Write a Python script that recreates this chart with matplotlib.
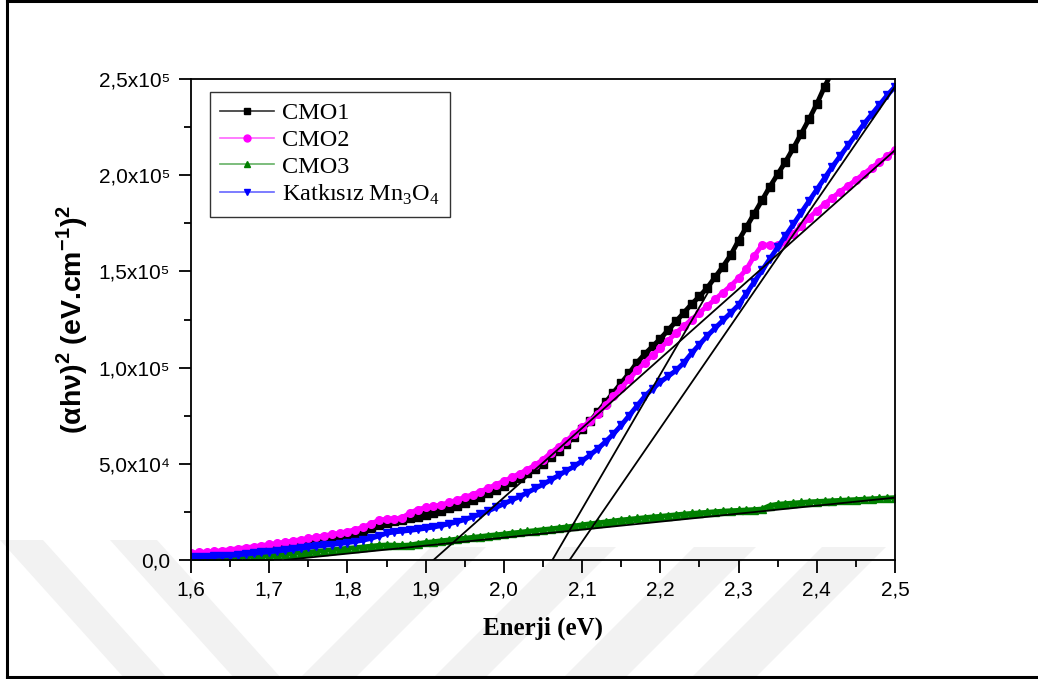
import numpy as np
import matplotlib
matplotlib.use("Agg")
import matplotlib.pyplot as plt
from matplotlib.lines import Line2D
from matplotlib.patches import Polygon
from matplotlib.ticker import FixedLocator

plt.rcParams['mathtext.fontset'] = 'custom'
plt.rcParams['mathtext.rm'] = 'Liberation Serif'
plt.rcParams['mathtext.bf'] = 'Liberation Sans:bold'

# photon energy grid (eV), 0.01 eV steps
energy = np.linspace(1.6, 2.5, 91)

# (alpha h nu)^2 values, in units of 1e3 (eV.cm^-1)^2
cmo1 = [1.5, 1.8, 2.1, 2.5, 2.9, 3.3, 3.8, 4.3, 4.9, 5.5,
        6.1, 6.6, 7.1, 7.6, 8.1, 8.6, 9.3, 10.0, 10.8, 11.7,
        12.6, 13.7, 15.0, 16.5, 18.0, 19.2, 20.2, 20.9, 21.6, 22.6,
        23.6, 24.5, 25.5, 26.8, 28.2, 29.7, 31.2, 32.8, 34.6, 36.6,
        38.6, 40.6, 42.7, 45.0, 47.4, 50.0, 53.3, 56.8, 60.4, 64.0,
        68.0, 72.0, 77.0, 82.0, 87.0, 92.0, 97.0, 102.5, 107.0, 111.0,
        115.0, 119.5, 124.0, 128.5, 133.0, 137.0, 141.5, 147.0, 152.5, 158.5,
        166.0, 173.0, 180.0, 187.0, 194.0, 200.5, 207.0, 214.0, 221.5, 229.0,
        237.0, 246.0, 254.0]
cmo2 = [3.6, 3.9, 4.2, 4.5, 4.9, 5.4, 5.9, 6.4, 6.9, 7.5,
        8.1, 8.7, 9.3, 9.9, 10.6, 11.2, 11.9, 12.6, 13.3, 14.0,
        14.8, 15.8, 17.0, 18.8, 20.6, 21.3, 21.2, 22.0, 24.5, 26.2,
        27.3, 27.9, 28.7, 29.9, 31.2, 32.6, 34.0, 35.6, 37.3, 39.2,
        41.0, 42.9, 44.9, 47.0, 49.4, 52.2, 55.6, 58.8, 62.0, 65.5,
        69.0, 72.0, 76.0, 80.5, 85.0, 89.5, 94.0, 98.5, 102.5, 106.5,
        110.0, 114.0, 118.0, 121.5, 125.0, 128.5, 132.0, 135.5, 139.0, 142.5,
        146.5, 151.0, 158.0, 163.7, 163.7, 163.7, 165.5, 169.5, 173.5, 177.8,
        181.5, 185.0, 188.3, 191.5, 194.5, 197.5, 200.7, 203.8, 206.8, 209.8,
        213.0]
cmo3 = [0.6, 0.8, 1.0, 1.2, 1.4, 1.6, 1.7, 1.8, 1.9, 2.0,
        2.1, 2.5, 2.9, 3.3, 3.7, 4.1, 4.5, 4.9, 5.3, 5.7,
        6.1, 6.4, 6.8, 7.2, 7.6, 7.8, 7.7, 7.6, 7.8, 8.5,
        9.1, 9.5, 10.0, 10.4, 10.9, 11.3, 11.8, 12.2, 12.7, 13.1,
        13.5, 14.0, 14.4, 14.9, 15.3, 15.8, 16.2, 16.7, 17.2, 17.7,
        18.3, 18.8, 19.3, 19.8, 20.3, 20.8, 21.2, 21.6, 22.0, 22.4,
        22.7, 23.1, 23.5, 23.9, 24.2, 24.5, 24.8, 25.1, 25.4, 25.6,
        25.8, 26.0, 26.2, 26.5, 28.3, 29.0, 29.3, 29.6, 29.9, 30.2,
        30.4, 30.6, 30.8, 31.0, 31.2, 31.4, 31.6, 31.8, 32.0, 32.2,
        32.4]
mn3o4 = [1.3, 1.5, 1.7, 1.9, 2.1, 2.3, 2.7, 3.1, 3.5, 3.9,
         4.3, 4.7, 5.1, 5.6, 6.1, 6.6, 7.1, 7.6, 8.0, 8.5,
         9.0, 9.6, 10.3, 11.2, 12.5, 13.9, 14.6, 15.0, 15.4, 15.9,
         16.5, 17.1, 17.9, 18.8, 19.8, 21.0, 22.4, 23.9, 25.5, 27.3,
         29.2, 31.1, 33.0, 35.0, 37.2, 39.3, 41.6, 44.0, 46.4, 48.7,
         51.5, 54.5, 57.8, 61.5, 65.5, 70.0, 75.0, 80.0, 85.0, 89.0,
         92.5, 95.5, 98.5, 102.5, 107.5, 112.0, 116.5, 120.5, 124.5, 128.5,
         132.5, 138.5, 144.5, 150.5, 156.5, 162.5, 168.5, 174.5, 180.5, 186.5,
         192.5, 198.5, 204.5, 210.0, 215.5, 221.0, 226.5, 231.5, 236.5, 241.5,
         246.0]

# linear fits used for the band gap (x intercept -> end point), 1e3 units
fit_x = [[1.91, 2.50], [2.062, 2.263], [2.084, 2.50], [1.72, 2.50]]
fit_y = [[0, 213.0], [0, 140.5], [0, 246.0], [0, 32.4]]

labels = ['CMO1', 'CMO2', 'CMO3', r'Katkısız Mn$_3$O$_4$']
series = [cmo1, cmo2, cmo3, mn3o4]
markers = ['s', 'o', '^', 'v']
mcolors = ['#000000', '#ff00ff', '#008000', '#0000ff']
lcolors = ['#333333', '#ff66ff', '#66b266', '#6666ff']

xticks = [1.6, 1.7, 1.8, 1.9, 2.0, 2.1, 2.2, 2.3, 2.4, 2.5]
xticklabels = ['1,6', '1,7', '1,8', '1,9', '2,0', '2,1', '2,2', '2,3', '2,4', '2,5']
yticks = [0, 5e4, 1e5, 1.5e5, 2e5, 2.5e5]
yticklabels = ['0,0', '5,0x10⁴', '1,0x10⁵', '1,5x10⁵', '2,0x10⁵', '2,5x10⁵']

W, H = 1038, 679
fig = plt.figure(figsize=(W / 100, H / 100), dpi=100)

# faint grey watermark stripes near the bottom of the page (pixel coords)
stripes_back = [(0, 43), (110, 157)]          # "\" stripes, top edge at y=540
stripes_fwd = [(431, 486), (564, 616), (694, 756), (822, 886)]  # "/" stripes, top at y=547
for x0, x1 in stripes_back:
    pts = [(x0, 540), (x1, 540), (x1 + 125, H), (x0 + 125, H)]
    fig.add_artist(Polygon([(px / W, 1 - py / H) for px, py in pts], closed=True,
                           facecolor='#f2f2f2', edgecolor='none', zorder=-1,
                           transform=fig.transFigure))
for x0, x1 in stripes_fwd:
    pts = [(x0, 547), (x1, 547), (x1 - 132, H), (x0 - 132, H)]
    fig.add_artist(Polygon([(px / W, 1 - py / H) for px, py in pts], closed=True,
                           facecolor='#f2f2f2', edgecolor='none', zorder=-1,
                           transform=fig.transFigure))

ax = fig.add_axes([191 / W, 1 - 560 / H, 704 / W, 481 / H])
ax.set_facecolor('none')

for vals, mk, mc in zip(series, markers, mcolors):
    x = energy[:len(vals)]
    y = np.array(vals) * 1e3
    ax.plot(x, y, color=mc, lw=3.5, solid_capstyle='butt')
    ax.plot(x, y, ls='none', marker=mk, ms=5.5, mfc=mc, mec=mc)

for fx, fy in zip(fit_x, fit_y):
    ax.plot(fx, np.array(fy) * 1e3, color='k', lw=1.3, zorder=5)

ax.set_xlim(1.6, 2.5)
ax.set_ylim(0, 2.5e5)
ax.set_xticks(xticks)
ax.set_xticklabels(xticklabels)
ax.set_yticks(yticks)
ax.set_yticklabels(yticklabels)
ax.xaxis.set_minor_locator(FixedLocator(np.array(xticks[:-1]) + 0.05))
ax.yaxis.set_minor_locator(FixedLocator(np.array(yticks[:-1]) + 2.5e4))

for lab in ax.get_xticklabels() + ax.get_yticklabels():
    lab.set_family(['Liberation Sans', 'DejaVu Sans'])
    lab.set_fontsize(15)
ax.tick_params(which='major', direction='out', length=9, width=1.3, pad=6,
               top=False, right=False)
ax.tick_params(which='minor', direction='out', length=5, width=1.3,
               top=False, right=False)
for sp in ax.spines.values():
    sp.set_linewidth(1.3)

ax.set_xlabel('Enerji (eV)', family='Liberation Serif', fontweight='bold',
              fontsize=18, labelpad=12)
ax.set_ylabel(r'(αhν)$^\mathbf{2}$ (eV.cm$^\mathbf{-1}$)$^\mathbf{2}$',
              family=['Liberation Sans', 'DejaVu Sans'], fontweight='bold',
              fontsize=20.5, labelpad=6)

handles = [Line2D([], [], color=lc, lw=1.2, marker=mk, ms=5, mfc=mc, mec=mc)
           for mk, mc, lc in zip(markers, mcolors, lcolors)]
leg = ax.legend(handles, labels, loc='upper left', bbox_to_anchor=(0.027, 0.973),
                borderaxespad=0, prop={'family': 'Liberation Serif', 'size': 17.5},
                frameon=True, fancybox=False, edgecolor='k', handlelength=2.2,
                handletextpad=0.35, labelspacing=0.2, borderpad=0.42)
leg.get_frame().set_linewidth(1.0)

# page border around the figure
for xs, ys in [([7, 7], [1, 677]), ([7, W], [1, 1]), ([7, W], [676.5, 676.5])]:
    fig.add_artist(Line2D([v / W for v in xs], [1 - v / H for v in ys], color='k',
                          lw=2.2, transform=fig.transFigure))

fig.savefig('out.png', dpi=100)
